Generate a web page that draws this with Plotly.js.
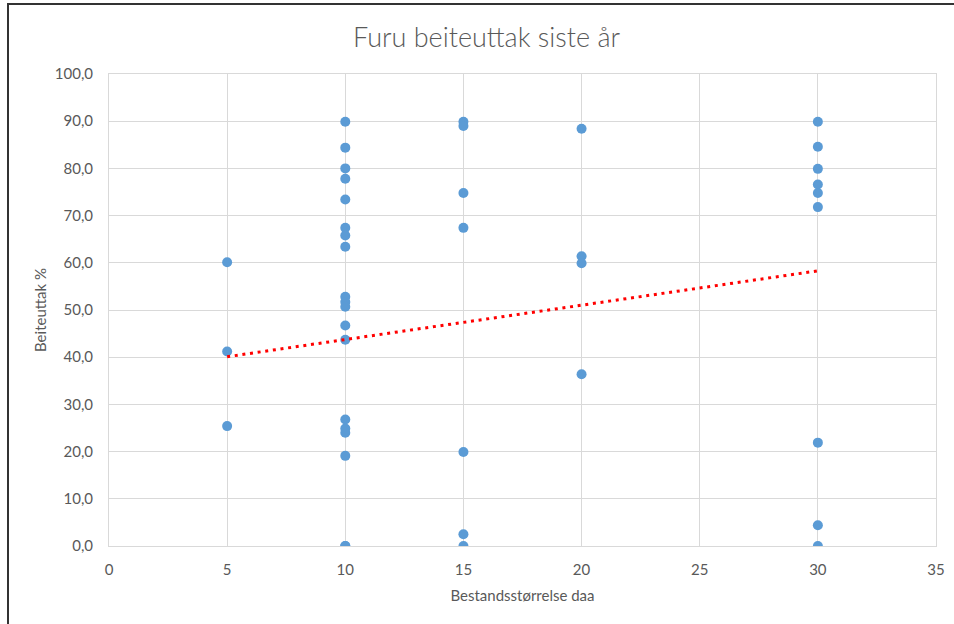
<!DOCTYPE html>
<html>
<head>
<meta charset="utf-8">
<script src="https://cdn.plot.ly/plotly-3.0.1.min.js"></script>
<style>
  html, body { margin: 0; padding: 0; background: #fff; }
  #wrap { position: relative; width: 954px; height: 624px; overflow: hidden; }
  #chart { position: absolute; left: 0; top: 0; width: 954px; height: 624px; }
  #frame { position: absolute; left: 7px; top: 3px; width: 960px; height: 640px;
           border-top: 2px solid #333; border-left: 2px solid #333; pointer-events: none; }
</style>
</head>
<body>
<div id="wrap">
  <div id="chart"></div>
  <div id="frame"></div>
</div>
<script>
// Stand size (daa) and browsing share (%) for each pine stand
const standSize = [
  5, 5, 5,
  10, 10, 10, 10, 10, 10, 10, 10, 10, 10, 10, 10, 10, 10, 10, 10, 10, 10, 10,
  15, 15, 15, 15, 15, 15, 15,
  20, 20, 20, 20,
  30, 30, 30, 30, 30, 30, 30, 30, 30
];
const browsing = [
  60.1, 41.2, 25.4,
  89.9, 84.4, 80.0, 77.8, 73.4, 67.4, 65.8, 63.4, 52.8, 51.7, 50.7, 46.7, 43.7, 26.8, 24.9, 24.0, 19.1, 0.0, 0.0,
  89.9, 89.0, 74.8, 67.4, 19.9, 2.5, 0.0,
  88.4, 61.4, 59.9, 36.4,
  89.9, 84.6, 79.9, 76.6, 74.8, 71.8, 21.9, 4.4, 0.0
];

// Linear trend line end points
const trendX = [5, 30];
const trendY = [40.1, 58.3];

const xTicks = [0, 5, 10, 15, 20, 25, 30, 35];
const yTicks = [0, 10, 20, 30, 40, 50, 60, 70, 80, 90, 100];
const yTickText = ['0,0', '10,0', '20,0', '30,0', '40,0', '50,0', '60,0', '70,0', '80,0', '90,0', '100,0'];

const grey = '#595959';
const gridGrey = '#d9d9d9';
const font = 'Lato, "Open Sans", sans-serif';

const traces = [
  {
    x: standSize, y: browsing,
    type: 'scatter', mode: 'markers',
    marker: { color: '#5b9bd5', size: 10 },
    hoverinfo: 'x+y'
  },
  {
    x: trendX, y: trendY,
    type: 'scatter', mode: 'lines',
    line: { color: '#ff0000', width: 3, dash: '3px,4.7px' },
    hoverinfo: 'skip'
  }
];

const layout = {
  width: 954, height: 624,
  margin: { l: 109, r: 18, t: 74, b: 78 },
  paper_bgcolor: '#ffffff',
  plot_bgcolor: '#ffffff',
  showlegend: false,
  font: { family: font, color: grey, size: 15 },
  title: {
    text: 'Furu beiteuttak siste år',
    font: { family: font, size: 27, color: grey, weight: 300 },
    x: 0.51, xanchor: 'center', y: 0.94, yanchor: 'middle'
  },
  xaxis: {
    range: [0, 35],
    tickvals: xTicks,
    ticktext: xTicks.map(String),
    showgrid: true, gridcolor: gridGrey, gridwidth: 1,
    zeroline: false,
    showline: true, linecolor: gridGrey, linewidth: 1, mirror: true,
    ticks: '', ticklen: 0,
    ticklabelstandoff: 10,
    tickfont: { family: font, size: 15, color: grey },
    title: { text: 'Bestandsstørrelse daa', font: { family: font, size: 15, color: grey }, standoff: 13 }
  },
  yaxis: {
    range: [0, 100],
    tickvals: yTicks,
    ticktext: yTickText,
    showgrid: true, gridcolor: gridGrey, gridwidth: 1,
    zeroline: false,
    showline: true, linecolor: gridGrey, linewidth: 1, mirror: true,
    ticks: '', ticklen: 0,
    ticklabelstandoff: 12,
    tickfont: { family: font, size: 15, color: grey },
    title: { text: 'Beiteuttak %', font: { family: font, size: 15, color: grey }, standoff: 4 }
  }
};

Plotly.newPlot('chart', traces, layout, { displayModeBar: false, staticPlot: true });
</script>
</body>
</html>
